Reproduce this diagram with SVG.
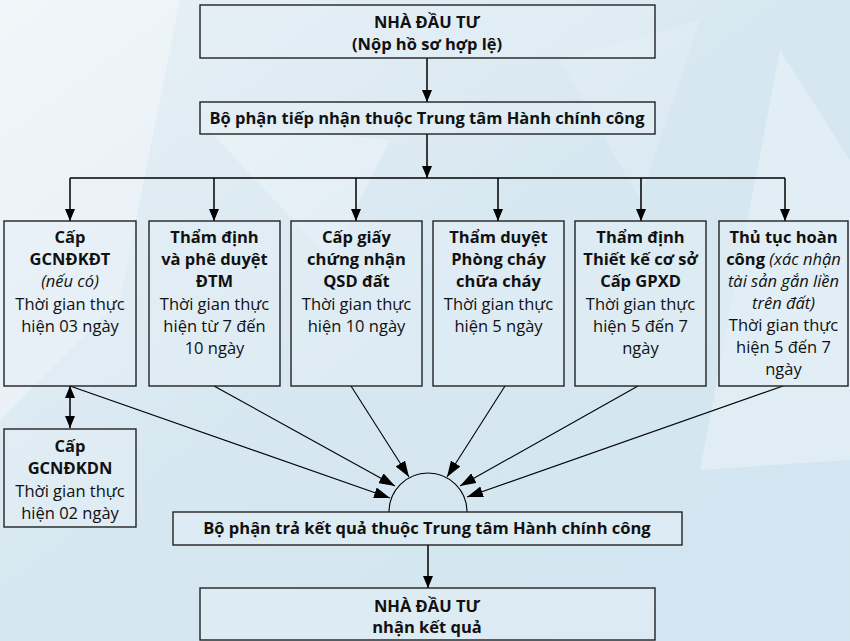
<svg xmlns="http://www.w3.org/2000/svg" width="850" height="641" viewBox="0 0 850 641">
<defs>
<linearGradient id="bg" x1="0" y1="0" x2="1" y2="1">
<stop offset="0" stop-color="#e9f1f6"/>
<stop offset="0.5" stop-color="#d6e7f1"/>
<stop offset="1" stop-color="#d2e5f0"/>
</linearGradient>
<marker id="ah" markerUnits="userSpaceOnUse" markerWidth="12" markerHeight="14" refX="12" refY="5" orient="auto-start-reverse" viewBox="0 0 12 10">
<path d="M0,0 L12,5 L0,10 z" fill="#000"/>
</marker>
<marker id="ahs" markerUnits="userSpaceOnUse" markerWidth="16" markerHeight="11" refX="16" refY="5.5" orient="auto" viewBox="0 0 16 11">
<path d="M0,0 L16,5.5 L0,11 z" fill="#000"/>
</marker>
</defs>
<style>
.box{fill:#e3eef5;fill-opacity:0.55;stroke:#222;stroke-width:1.4}
.t{font-family:"Open Sans",Lato,"Liberation Sans",sans-serif;font-size:16.5px;fill:#111;text-anchor:middle}
.b{font-weight:bold}
.i{font-style:italic}
.c{stroke:#000;stroke-width:1.5;fill:none}
.d{stroke:#000;stroke-width:1.1;fill:none}
</style>
<rect width="850" height="641" fill="url(#bg)"/>
<polygon points="0,0 180,0 120,300 0,420" fill="#ffffff" opacity="0.35"/>
<polygon points="200,120 390,140 330,260" fill="#ffffff" opacity="0.25"/>
<polygon points="780,50 850,160 850,460 700,470" fill="#ffffff" opacity="0.3"/>
<polygon points="560,60 700,20 640,200" fill="#ffffff" opacity="0.15"/>

<g id="connectors">
<line class="c" x1="427" y1="58" x2="427" y2="102" marker-end="url(#ah)"/>
<line class="c" x1="427" y1="134" x2="427" y2="178" marker-end="url(#ah)"/>
<line class="c" x1="70" y1="178" x2="785" y2="178"/>
<line class="c" x1="70" y1="178" x2="70" y2="221" marker-end="url(#ah)"/>
<line class="c" x1="214" y1="178" x2="214" y2="221" marker-end="url(#ah)"/>
<line class="c" x1="356" y1="178" x2="356" y2="221" marker-end="url(#ah)"/>
<line class="c" x1="498" y1="178" x2="498" y2="221" marker-end="url(#ah)"/>
<line class="c" x1="641" y1="178" x2="641" y2="221" marker-end="url(#ah)"/>
<line class="c" x1="785" y1="178" x2="785" y2="221" marker-end="url(#ah)"/>
<line class="c" x1="70" y1="386" x2="70" y2="428" marker-start="url(#ah)" marker-end="url(#ah)"/>
<line class="d" x1="70" y1="386" x2="390" y2="498" marker-end="url(#ahs)"/>
<line class="d" x1="214" y1="386" x2="395" y2="486" marker-end="url(#ahs)"/>
<line class="d" x1="351" y1="386" x2="409" y2="477" marker-end="url(#ahs)"/>
<line class="d" x1="505" y1="386" x2="447" y2="477" marker-end="url(#ahs)"/>
<line class="d" x1="638" y1="386" x2="460" y2="486" marker-end="url(#ahs)"/>
<line class="d" x1="783" y1="386" x2="467" y2="497" marker-end="url(#ahs)"/>
<path class="d" d="M389,512 A39,39 0 0 1 467,512"/>
<line class="c" x1="428" y1="545" x2="428" y2="588" marker-end="url(#ah)"/>
</g>

<g id="n-investor">
<rect class="box" x="200" y="5" width="455" height="53"/>
<text class="t b" x="427" y="28">NHÀ ĐẦU TƯ</text>
<text class="t b" x="427" y="50">(Nộp hồ sơ hợp lệ)</text>
</g>
<g id="n-reception">
<rect class="box" x="200" y="102" width="455" height="32"/>
<text class="t b" x="427" y="124">Bộ phận tiếp nhận thuộc Trung tâm Hành chính công</text>
</g>
<g id="n-gcndkdt">
<rect class="box" x="4" y="221" width="132" height="165"/>
<text class="t b" x="70" y="243">Cấp</text>
<text class="t b" x="70" y="265">GCNĐKĐT</text>
<text class="t i" x="70" y="287">(nếu có)</text>
<text class="t" x="70" y="310">Thời gian thực</text>
<text class="t" x="70" y="332">hiện 03 ngày</text>
</g>
<g id="n-dtm">
<rect class="box" x="149" y="221" width="131" height="165"/>
<text class="t b" x="214.5" y="243">Thẩm định</text>
<text class="t b" x="214.5" y="265">và phê duyệt</text>
<text class="t b" x="214.5" y="287">ĐTM</text>
<text class="t" x="214.5" y="310">Thời gian thực</text>
<text class="t" x="214.5" y="332">hiện từ 7 đến</text>
<text class="t" x="214.5" y="354">10 ngày</text>
</g>
<g id="n-qsd">
<rect class="box" x="291" y="221" width="131" height="165"/>
<text class="t b" x="356.5" y="243">Cấp giấy</text>
<text class="t b" x="356.5" y="265">chứng nhận</text>
<text class="t b" x="356.5" y="287">QSD đất</text>
<text class="t" x="356.5" y="310">Thời gian thực</text>
<text class="t" x="356.5" y="332">hiện 10 ngày</text>
</g>
<g id="n-pccc">
<rect class="box" x="433" y="221" width="131" height="165"/>
<text class="t b" x="498.5" y="243">Thẩm duyệt</text>
<text class="t b" x="498.5" y="265">Phòng cháy</text>
<text class="t b" x="498.5" y="287">chữa cháy</text>
<text class="t" x="498.5" y="310">Thời gian thực</text>
<text class="t" x="498.5" y="332">hiện 5 ngày</text>
</g>
<g id="n-gpxd">
<rect class="box" x="575" y="221" width="131" height="165"/>
<text class="t b" x="640.5" y="243">Thẩm định</text>
<text class="t b" x="640.5" y="265">Thiết kế cơ sở</text>
<text class="t b" x="640.5" y="287">Cấp GPXD</text>
<text class="t" x="640.5" y="310">Thời gian thực</text>
<text class="t" x="640.5" y="332">hiện 5 đến 7</text>
<text class="t" x="640.5" y="354">ngày</text>
</g>
<g id="n-hoancong">
<rect class="box" x="719" y="221" width="129" height="165"/>
<text class="t b" x="783.5" y="243">Thủ tục hoàn</text>
<text class="t" x="783.5" y="265"><tspan class="b">công</tspan><tspan class="i"> (xác nhận</tspan></text>
<text class="t i" x="783.5" y="287">tài sản gắn liền</text>
<text class="t i" x="783.5" y="309">trên đất)</text>
<text class="t" x="783.5" y="331">Thời gian thực</text>
<text class="t" x="783.5" y="353">hiện 5 đến 7</text>
<text class="t" x="783.5" y="375">ngày</text>
</g>
<g id="n-gcndkdn">
<rect class="box" x="4" y="429" width="132" height="98"/>
<text class="t b" x="70" y="452">Cấp</text>
<text class="t b" x="70" y="474">GCNĐKDN</text>
<text class="t" x="70" y="497">Thời gian thực</text>
<text class="t" x="70" y="519">hiện 02 ngày</text>
</g>
<g id="n-result">
<rect class="box" x="173" y="512" width="509" height="33"/>
<text class="t b" x="427" y="534">Bộ phận trả kết quả thuộc Trung tâm Hành chính công</text>
</g>
<g id="n-final">
<rect class="box" x="200" y="588" width="455" height="52"/>
<text class="t b" x="427" y="612">NHÀ ĐẦU TƯ</text>
<text class="t b" x="427" y="633">nhận kết quả</text>
</g>
</svg>
